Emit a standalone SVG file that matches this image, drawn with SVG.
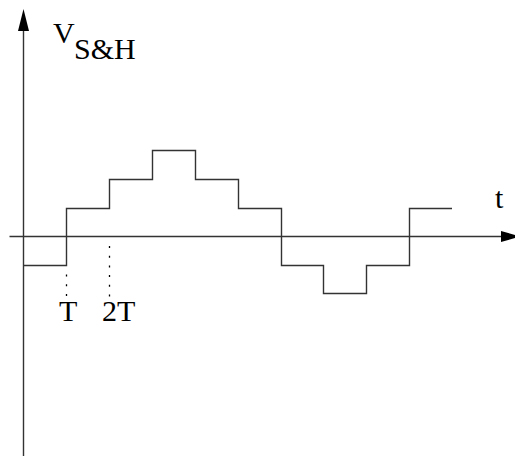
<svg xmlns="http://www.w3.org/2000/svg" width="515" height="456" viewBox="0 0 515 456">
<style>
.l{fill:none;stroke:#333;stroke-width:1.4}
.d{fill:none;stroke:#000;stroke-width:1.3;stroke-dasharray:2 7.7}
.h{fill:#000;stroke:none}
text{font-family:"Liberation Serif","Times New Roman",serif;fill:#000;font-size:30px}
</style>
<rect width="515" height="456" fill="#fff"/>
<g id="axes">
<path class="l" d="M23.500 28V456"/>
<polygon class="h" points="23.500,9 18,31 29,31"/>
<path class="l" d="M9.500 236.500H503"/>
<polygon class="h" points="520,236.500 501,231 501,242"/>
</g>
<g id="signal">
<path class="l" d="M24 265.500H66.500V208.500H109.500V179.500H152.500V150.500H195.500V179.500H238.500V208.500H281.500V265.500H323.500V293.500H366.500V265.500H409.500V208.500H452"/>
</g>
<g id="ticks">
<path class="d" d="M66.500 274.500V297"/>
<path class="d" d="M109.500 246V297"/>
</g>
<g id="labels">
<text x="53" y="43">V</text>
<text x="74" y="59">S&amp;H</text>
<text x="59" y="321">T</text>
<text x="102" y="321">2T</text>
<text x="495" y="208">t</text>
</g>
</svg>
